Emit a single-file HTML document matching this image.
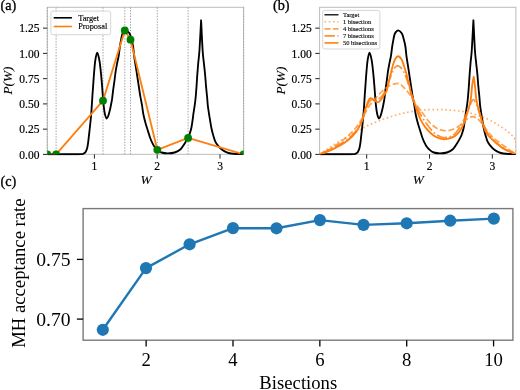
<!DOCTYPE html>
<html><head><meta charset="utf-8"><style>
html,body{margin:0;padding:0;background:#fff;}
svg{display:block;will-change:transform;}
text{font-family:"Liberation Serif",serif;}
.b text{stroke:#000;stroke-width:0.2px;}
</style></head><body>
<svg width="520" height="390" viewBox="0 0 520 390">
<g fill="#000">
<rect width="520" height="390" fill="#fff"/>
<g class="b">
<clipPath id="ca"><rect x="47.3" y="7.3" width="196.3" height="147.0"/></clipPath>
<clipPath id="ca2"><rect x="47.3" y="7.3" width="196.3" height="148.2"/></clipPath>
<rect x="47.3" y="7.3" width="196.3" height="147.0" fill="none" stroke="#bcbcbc" stroke-width="1"/>
<line x1="43.0" y1="154.40" x2="47.3" y2="154.40" stroke="#222" stroke-width="1"/>
<text x="39.4" y="158.50" text-anchor="end" font-size="11.5">0.00</text>
<line x1="43.0" y1="129.15" x2="47.3" y2="129.15" stroke="#222" stroke-width="1"/>
<text x="39.4" y="133.25" text-anchor="end" font-size="11.5">0.25</text>
<line x1="43.0" y1="103.90" x2="47.3" y2="103.90" stroke="#222" stroke-width="1"/>
<text x="39.4" y="108.00" text-anchor="end" font-size="11.5">0.50</text>
<line x1="43.0" y1="78.65" x2="47.3" y2="78.65" stroke="#222" stroke-width="1"/>
<text x="39.4" y="82.75" text-anchor="end" font-size="11.5">0.75</text>
<line x1="43.0" y1="53.40" x2="47.3" y2="53.40" stroke="#222" stroke-width="1"/>
<text x="39.4" y="57.50" text-anchor="end" font-size="11.5">1.00</text>
<line x1="43.0" y1="28.15" x2="47.3" y2="28.15" stroke="#222" stroke-width="1"/>
<text x="39.4" y="32.25" text-anchor="end" font-size="11.5">1.25</text>
<line x1="94.40" y1="154.3" x2="94.40" y2="158.60000000000002" stroke="#222" stroke-width="1"/>
<text x="94.40" y="169.8" text-anchor="middle" font-size="11.5">1</text>
<line x1="157.20" y1="154.3" x2="157.20" y2="158.60000000000002" stroke="#222" stroke-width="1"/>
<text x="157.20" y="169.8" text-anchor="middle" font-size="11.5">2</text>
<line x1="220.00" y1="154.3" x2="220.00" y2="158.60000000000002" stroke="#222" stroke-width="1"/>
<text x="220.00" y="169.8" text-anchor="middle" font-size="11.5">3</text>
<text transform="translate(146.00,184.2) scale(1.08,1)" text-anchor="middle" font-size="12.3" font-style="italic" style="stroke-width:0.1px">W</text>
<text transform="translate(12.30,80.5) rotate(-90) scale(1.04,1)" text-anchor="middle" font-size="12.8" font-style="italic" style="stroke-width:0.1px">P(W)</text>
</g>
<line x1="47.3" y1="7.3" x2="47.3" y2="154.3" stroke="#a5a5a5" stroke-width="1" stroke-dasharray="1.5 1.3"/>
<line x1="56.1" y1="7.3" x2="56.1" y2="154.3" stroke="#a5a5a5" stroke-width="1" stroke-dasharray="1.5 1.3"/>
<line x1="103.0" y1="7.3" x2="103.0" y2="154.3" stroke="#a5a5a5" stroke-width="1" stroke-dasharray="1.5 1.3"/>
<line x1="124.8" y1="7.3" x2="124.8" y2="154.3" stroke="#a5a5a5" stroke-width="1" stroke-dasharray="1.5 1.3"/>
<line x1="130.5" y1="7.3" x2="130.5" y2="154.3" stroke="#a5a5a5" stroke-width="1" stroke-dasharray="1.5 1.3"/>
<line x1="157.3" y1="7.3" x2="157.3" y2="154.3" stroke="#a5a5a5" stroke-width="1" stroke-dasharray="1.5 1.3"/>
<line x1="188.1" y1="7.3" x2="188.1" y2="154.3" stroke="#a5a5a5" stroke-width="1" stroke-dasharray="1.5 1.3"/>
<line x1="243.6" y1="7.3" x2="243.6" y2="154.3" stroke="#a5a5a5" stroke-width="1" stroke-dasharray="1.5 1.3"/>
<g clip-path="url(#ca2)">
<path d="M47.30,154.20 C49.42,154.20 56.22,154.20 60.00,154.20 C63.78,154.20 67.00,154.20 70.00,154.20 C73.00,154.20 76.17,154.22 78.00,154.20 C79.83,154.18 80.15,154.17 81.00,154.10 C81.85,154.03 82.52,153.97 83.10,153.80 C83.68,153.63 84.07,153.43 84.50,153.10 C84.93,152.77 85.25,152.63 85.70,151.80 C86.15,150.97 86.80,149.58 87.20,148.10 C87.60,146.62 87.83,144.77 88.10,142.90 C88.37,141.03 88.58,138.77 88.80,136.90 C89.02,135.03 89.23,133.18 89.40,131.70 C89.57,130.22 89.53,130.53 89.80,128.00 C90.07,125.47 90.67,120.20 91.00,116.50 C91.33,112.80 91.57,109.22 91.80,105.80 C92.03,102.38 92.17,99.48 92.40,96.00 C92.63,92.52 92.92,88.80 93.20,84.90 C93.48,81.00 93.75,76.70 94.10,72.60 C94.45,68.50 94.78,63.63 95.30,60.30 C95.82,56.97 96.52,52.60 97.20,52.60 C97.88,52.60 98.78,56.97 99.40,60.30 C100.02,63.63 100.47,68.50 100.90,72.60 C101.33,76.70 101.67,80.83 102.00,84.90 C102.33,88.97 102.62,93.52 102.90,97.00 C103.18,100.48 103.37,102.97 103.70,105.80 C104.03,108.63 104.38,111.88 104.90,114.00 C105.42,116.12 106.18,118.35 106.80,118.50 C107.42,118.65 108.02,116.60 108.60,114.90 C109.18,113.20 109.75,110.77 110.30,108.30 C110.85,105.83 111.58,101.82 111.90,100.10 C112.22,98.38 111.98,99.73 112.20,98.00 C112.42,96.27 112.82,92.62 113.20,89.70 C113.58,86.78 114.08,83.58 114.50,80.50 C114.92,77.42 115.22,74.28 115.70,71.20 C116.18,68.12 116.90,64.58 117.40,62.00 C117.90,59.42 118.28,58.28 118.70,55.70 C119.12,53.12 119.48,49.27 119.90,46.50 C120.32,43.73 120.75,41.27 121.20,39.10 C121.65,36.93 121.82,34.97 122.60,33.50 C123.38,32.03 124.73,30.30 125.90,30.30 C127.07,30.30 128.68,32.03 129.60,33.50 C130.52,34.97 130.82,36.93 131.40,39.10 C131.98,41.27 132.65,43.73 133.10,46.50 C133.55,49.27 133.75,52.95 134.10,55.70 C134.45,58.45 134.80,60.42 135.20,63.00 C135.60,65.58 136.05,68.28 136.50,71.20 C136.95,74.12 137.43,77.42 137.90,80.50 C138.37,83.58 138.90,87.08 139.30,89.70 C139.70,92.32 139.85,93.62 140.30,96.20 C140.75,98.78 141.48,102.15 142.00,105.20 C142.52,108.25 142.78,111.42 143.40,114.50 C144.02,117.58 144.93,120.93 145.70,123.70 C146.47,126.47 147.25,128.72 148.00,131.10 C148.75,133.48 149.48,136.03 150.20,138.00 C150.92,139.97 151.58,141.43 152.30,142.90 C153.02,144.37 153.67,145.65 154.50,146.80 C155.33,147.95 156.13,148.85 157.30,149.80 C158.47,150.75 159.77,151.92 161.50,152.50 C163.23,153.08 165.52,153.30 167.70,153.30 C169.88,153.30 172.45,153.18 174.60,152.50 C176.75,151.82 178.92,150.70 180.60,149.20 C182.28,147.70 183.48,145.38 184.70,143.50 C185.92,141.62 187.07,139.53 187.90,137.90 C188.73,136.27 189.10,135.48 189.70,133.70 C190.30,131.92 190.97,129.82 191.50,127.20 C192.03,124.58 192.57,120.35 192.90,118.00 C193.23,115.65 193.20,115.20 193.50,113.10 C193.80,111.00 194.35,107.92 194.70,105.40 C195.05,102.88 195.30,101.08 195.60,98.00 C195.90,94.92 196.22,90.80 196.50,86.90 C196.78,83.00 197.00,78.70 197.30,74.60 C197.60,70.50 197.93,66.40 198.30,62.30 C198.67,58.20 199.03,57.00 199.50,50.00 C199.97,43.00 200.57,30.20 201.10,20.30 C201.60,30.20 202.15,43.00 202.60,50.00 C203.05,57.00 203.38,58.20 203.80,62.30 C204.22,66.40 204.72,70.50 205.10,74.60 C205.48,78.70 205.75,83.00 206.10,86.90 C206.45,90.80 206.92,94.92 207.20,98.00 C207.48,101.08 207.52,102.88 207.80,105.40 C208.08,107.92 208.58,111.00 208.90,113.10 C209.22,115.20 209.28,115.52 209.70,118.00 C210.12,120.48 210.82,125.13 211.40,128.00 C211.98,130.87 212.55,132.93 213.20,135.20 C213.85,137.47 214.47,139.82 215.30,141.60 C216.13,143.38 217.12,144.58 218.20,145.90 C219.28,147.22 220.37,148.42 221.80,149.50 C223.23,150.58 225.25,151.73 226.80,152.40 C228.35,153.07 229.42,153.23 231.10,153.50 C232.78,153.77 234.82,153.88 236.90,154.00 C238.98,154.12 242.48,154.17 243.60,154.20" fill="none" stroke="#000" stroke-width="1.85" stroke-linejoin="round"/>
</g>
<g clip-path="url(#ca)">
<path d="M47.30,154.30 L56.10,154.30 L103.00,100.70 L124.80,30.50 L130.50,39.70 L157.30,149.80 L188.10,137.90 L243.60,154.30" fill="none" stroke="#ff7f0e" stroke-width="1.85" stroke-linejoin="round"/>
<circle cx="47.3" cy="154.3" r="3.9" fill="#008000"/>
<circle cx="56.1" cy="154.3" r="3.9" fill="#008000"/>
<circle cx="103.0" cy="100.7" r="3.9" fill="#008000"/>
<circle cx="124.8" cy="30.5" r="3.9" fill="#008000"/>
<circle cx="130.5" cy="39.7" r="3.9" fill="#008000"/>
<circle cx="157.3" cy="149.8" r="3.9" fill="#008000"/>
<circle cx="188.1" cy="137.9" r="3.9" fill="#008000"/>
<circle cx="243.6" cy="154.3" r="3.9" fill="#008000"/>
</g>
<rect x="50.9" y="11.1" width="59.8" height="23.6" rx="2" fill="#fff" fill-opacity="0.8" stroke="#cccccc" stroke-width="0.8"/>
<line x1="53.7" y1="17.8" x2="71.9" y2="17.8" stroke="#000" stroke-width="1.6"/>
<line x1="53.7" y1="26.5" x2="71.9" y2="26.5" stroke="#ff7f0e" stroke-width="1.6"/>
<text x="78.2" y="20.7" font-size="8.3" stroke="#000" stroke-width="0.15">Target</text>
<text x="78.2" y="29.4" font-size="8.3" stroke="#000" stroke-width="0.15">Proposal</text>
<g class="b">
<clipPath id="cb"><rect x="319.6" y="7.3" width="196.29999999999995" height="147.0"/></clipPath>
<clipPath id="cb2"><rect x="319.6" y="7.3" width="196.29999999999995" height="148.2"/></clipPath>
<rect x="319.6" y="7.3" width="196.29999999999995" height="147.0" fill="none" stroke="#bcbcbc" stroke-width="1"/>
<line x1="315.3" y1="154.40" x2="319.6" y2="154.40" stroke="#222" stroke-width="1"/>
<text x="311.70000000000005" y="158.50" text-anchor="end" font-size="11.5">0.00</text>
<line x1="315.3" y1="129.15" x2="319.6" y2="129.15" stroke="#222" stroke-width="1"/>
<text x="311.70000000000005" y="133.25" text-anchor="end" font-size="11.5">0.25</text>
<line x1="315.3" y1="103.90" x2="319.6" y2="103.90" stroke="#222" stroke-width="1"/>
<text x="311.70000000000005" y="108.00" text-anchor="end" font-size="11.5">0.50</text>
<line x1="315.3" y1="78.65" x2="319.6" y2="78.65" stroke="#222" stroke-width="1"/>
<text x="311.70000000000005" y="82.75" text-anchor="end" font-size="11.5">0.75</text>
<line x1="315.3" y1="53.40" x2="319.6" y2="53.40" stroke="#222" stroke-width="1"/>
<text x="311.70000000000005" y="57.50" text-anchor="end" font-size="11.5">1.00</text>
<line x1="315.3" y1="28.15" x2="319.6" y2="28.15" stroke="#222" stroke-width="1"/>
<text x="311.70000000000005" y="32.25" text-anchor="end" font-size="11.5">1.25</text>
<line x1="366.70" y1="154.3" x2="366.70" y2="158.60000000000002" stroke="#222" stroke-width="1"/>
<text x="366.70" y="169.8" text-anchor="middle" font-size="11.5">1</text>
<line x1="429.50" y1="154.3" x2="429.50" y2="158.60000000000002" stroke="#222" stroke-width="1"/>
<text x="429.50" y="169.8" text-anchor="middle" font-size="11.5">2</text>
<line x1="492.30" y1="154.3" x2="492.30" y2="158.60000000000002" stroke="#222" stroke-width="1"/>
<text x="492.30" y="169.8" text-anchor="middle" font-size="11.5">3</text>
<text transform="translate(418.30,184.2) scale(1.08,1)" text-anchor="middle" font-size="12.3" font-style="italic" style="stroke-width:0.1px">W</text>
<text transform="translate(284.60,80.5) rotate(-90) scale(1.04,1)" text-anchor="middle" font-size="12.8" font-style="italic" style="stroke-width:0.1px">P(W)</text>
</g>
<g clip-path="url(#cb2)">
<path d="M319.60,154.20 C321.72,154.20 328.52,154.20 332.30,154.20 C336.08,154.20 339.30,154.20 342.30,154.20 C345.30,154.20 348.47,154.22 350.30,154.20 C352.13,154.18 352.45,154.17 353.30,154.10 C354.15,154.03 354.82,153.97 355.40,153.80 C355.98,153.63 356.37,153.43 356.80,153.10 C357.23,152.77 357.55,152.63 358.00,151.80 C358.45,150.97 359.10,149.58 359.50,148.10 C359.90,146.62 360.13,144.77 360.40,142.90 C360.67,141.03 360.88,138.77 361.10,136.90 C361.32,135.03 361.53,133.18 361.70,131.70 C361.87,130.22 361.83,130.53 362.10,128.00 C362.37,125.47 362.97,120.20 363.30,116.50 C363.63,112.80 363.87,109.22 364.10,105.80 C364.33,102.38 364.47,99.48 364.70,96.00 C364.93,92.52 365.22,88.80 365.50,84.90 C365.78,81.00 366.05,76.70 366.40,72.60 C366.75,68.50 367.08,63.63 367.60,60.30 C368.12,56.97 368.82,52.60 369.50,52.60 C370.18,52.60 371.08,56.97 371.70,60.30 C372.32,63.63 372.77,68.50 373.20,72.60 C373.63,76.70 373.97,80.83 374.30,84.90 C374.63,88.97 374.92,93.52 375.20,97.00 C375.48,100.48 375.67,102.97 376.00,105.80 C376.33,108.63 376.68,111.88 377.20,114.00 C377.72,116.12 378.48,118.35 379.10,118.50 C379.72,118.65 380.32,116.60 380.90,114.90 C381.48,113.20 382.05,110.77 382.60,108.30 C383.15,105.83 383.88,101.82 384.20,100.10 C384.52,98.38 384.28,99.73 384.50,98.00 C384.72,96.27 385.12,92.62 385.50,89.70 C385.88,86.78 386.38,83.58 386.80,80.50 C387.22,77.42 387.52,74.28 388.00,71.20 C388.48,68.12 389.20,64.58 389.70,62.00 C390.20,59.42 390.58,58.28 391.00,55.70 C391.42,53.12 391.78,49.27 392.20,46.50 C392.62,43.73 393.05,41.27 393.50,39.10 C393.95,36.93 394.12,34.97 394.90,33.50 C395.68,32.03 397.03,30.30 398.20,30.30 C399.37,30.30 400.98,32.03 401.90,33.50 C402.82,34.97 403.12,36.93 403.70,39.10 C404.28,41.27 404.95,43.73 405.40,46.50 C405.85,49.27 406.05,52.95 406.40,55.70 C406.75,58.45 407.10,60.42 407.50,63.00 C407.90,65.58 408.35,68.28 408.80,71.20 C409.25,74.12 409.73,77.42 410.20,80.50 C410.67,83.58 411.20,87.08 411.60,89.70 C412.00,92.32 412.15,93.62 412.60,96.20 C413.05,98.78 413.78,102.15 414.30,105.20 C414.82,108.25 415.08,111.42 415.70,114.50 C416.32,117.58 417.23,120.93 418.00,123.70 C418.77,126.47 419.55,128.72 420.30,131.10 C421.05,133.48 421.78,136.03 422.50,138.00 C423.22,139.97 423.88,141.43 424.60,142.90 C425.32,144.37 425.97,145.65 426.80,146.80 C427.63,147.95 428.43,148.85 429.60,149.80 C430.77,150.75 432.07,151.92 433.80,152.50 C435.53,153.08 437.82,153.30 440.00,153.30 C442.18,153.30 444.75,153.18 446.90,152.50 C449.05,151.82 451.22,150.70 452.90,149.20 C454.58,147.70 455.78,145.38 457.00,143.50 C458.22,141.62 459.37,139.53 460.20,137.90 C461.03,136.27 461.40,135.48 462.00,133.70 C462.60,131.92 463.27,129.82 463.80,127.20 C464.33,124.58 464.87,120.35 465.20,118.00 C465.53,115.65 465.50,115.20 465.80,113.10 C466.10,111.00 466.65,107.92 467.00,105.40 C467.35,102.88 467.60,101.08 467.90,98.00 C468.20,94.92 468.52,90.80 468.80,86.90 C469.08,83.00 469.30,78.70 469.60,74.60 C469.90,70.50 470.23,66.40 470.60,62.30 C470.97,58.20 471.33,57.00 471.80,50.00 C472.27,43.00 472.87,30.20 473.40,20.30 C473.90,30.20 474.45,43.00 474.90,50.00 C475.35,57.00 475.68,58.20 476.10,62.30 C476.52,66.40 477.02,70.50 477.40,74.60 C477.78,78.70 478.05,83.00 478.40,86.90 C478.75,90.80 479.22,94.92 479.50,98.00 C479.78,101.08 479.82,102.88 480.10,105.40 C480.38,107.92 480.88,111.00 481.20,113.10 C481.52,115.20 481.58,115.52 482.00,118.00 C482.42,120.48 483.12,125.13 483.70,128.00 C484.28,130.87 484.85,132.93 485.50,135.20 C486.15,137.47 486.77,139.82 487.60,141.60 C488.43,143.38 489.42,144.58 490.50,145.90 C491.58,147.22 492.67,148.42 494.10,149.50 C495.53,150.58 497.55,151.73 499.10,152.40 C500.65,153.07 501.72,153.23 503.40,153.50 C505.08,153.77 507.12,153.88 509.20,154.00 C511.28,154.12 514.78,154.17 515.90,154.20" fill="none" stroke="#000" stroke-width="1.85" stroke-linejoin="round"/>
</g>
<g clip-path="url(#cb)">
<path d="M319.60,154.30 C320.33,153.80 322.27,152.47 324.00,151.30 C325.73,150.13 327.83,148.72 330.00,147.30 C332.17,145.88 334.67,144.25 337.00,142.80 C339.33,141.35 341.67,139.97 344.00,138.60 C346.33,137.23 348.67,135.87 351.00,134.60 C353.33,133.33 355.83,132.17 358.00,131.00 C360.17,129.83 361.92,128.70 364.00,127.60 C366.08,126.50 368.18,125.43 370.50,124.40 C372.82,123.37 375.33,122.40 377.90,121.40 C380.47,120.40 383.13,119.37 385.90,118.40 C388.67,117.43 391.82,116.42 394.50,115.60 C397.18,114.78 399.55,114.12 402.00,113.50 C404.45,112.88 406.45,112.40 409.20,111.90 C411.95,111.40 415.67,110.85 418.50,110.50 C421.33,110.15 423.53,109.95 426.20,109.80 C428.87,109.65 431.73,109.62 434.50,109.60 C437.27,109.58 440.03,109.60 442.80,109.70 C445.57,109.80 448.33,109.98 451.10,110.20 C453.87,110.42 456.75,110.65 459.40,111.00 C462.05,111.35 464.57,111.78 467.00,112.30 C469.43,112.82 471.67,113.40 474.00,114.10 C476.33,114.80 478.67,115.65 481.00,116.50 C483.33,117.35 485.83,118.23 488.00,119.20 C490.17,120.17 492.17,121.25 494.00,122.30 C495.83,123.35 497.33,124.43 499.00,125.50 C500.67,126.57 502.42,127.58 504.00,128.70 C505.58,129.82 507.17,131.07 508.50,132.20 C509.83,133.33 510.95,134.40 512.00,135.50 C513.05,136.60 514.15,137.80 514.80,138.80 C515.45,139.80 515.72,138.92 515.90,141.50 C516.08,144.08 515.90,152.17 515.90,154.30" fill="none" stroke="#ff7f0e" stroke-opacity="0.6" stroke-width="1.7" stroke-dasharray="1.6 2.65"/>
<path d="M319.60,154.30 C320.67,153.80 323.77,152.52 326.00,151.30 C328.23,150.08 330.67,148.50 333.00,147.00 C335.33,145.50 337.67,144.00 340.00,142.30 C342.33,140.60 344.83,138.68 347.00,136.80 C349.17,134.92 351.17,132.97 353.00,131.00 C354.83,129.03 356.50,127.08 358.00,125.00 C359.50,122.92 360.67,120.75 362.00,118.50 C363.33,116.25 364.67,113.75 366.00,111.50 C367.33,109.25 368.50,107.12 370.00,105.00 C371.50,102.88 373.20,100.88 375.00,98.80 C376.80,96.72 378.97,94.30 380.80,92.50 C382.63,90.70 384.30,89.25 386.00,88.00 C387.70,86.75 389.28,85.73 391.00,85.00 C392.72,84.27 394.80,83.77 396.30,83.60 C397.80,83.43 398.62,83.22 400.00,84.00 C401.38,84.78 403.07,86.67 404.60,88.30 C406.13,89.93 407.67,91.65 409.20,93.80 C410.73,95.95 412.25,98.88 413.80,101.20 C415.35,103.52 417.10,105.82 418.50,107.70 C419.90,109.58 420.62,110.37 422.20,112.50 C423.78,114.63 426.27,118.38 428.00,120.50 C429.73,122.62 431.07,123.87 432.60,125.20 C434.13,126.53 435.35,127.60 437.20,128.50 C439.05,129.40 441.70,130.30 443.70,130.60 C445.70,130.90 447.35,130.65 449.20,130.30 C451.05,129.95 453.10,129.27 454.80,128.50 C456.50,127.73 458.10,126.63 459.40,125.70 C460.70,124.77 461.52,123.87 462.60,122.90 C463.68,121.93 464.75,120.82 465.90,119.90 C467.05,118.98 468.35,117.95 469.50,117.40 C470.65,116.85 471.72,116.53 472.80,116.60 C473.88,116.67 474.85,117.10 476.00,117.80 C477.15,118.50 478.47,119.53 479.70,120.80 C480.93,122.07 482.17,123.77 483.40,125.40 C484.63,127.03 485.87,129.00 487.10,130.60 C488.33,132.20 489.65,133.70 490.80,135.00 C491.95,136.30 492.80,137.32 494.00,138.40 C495.20,139.48 496.67,140.48 498.00,141.50 C499.33,142.52 500.50,143.42 502.00,144.50 C503.50,145.58 505.33,146.83 507.00,148.00 C508.67,149.17 510.52,150.53 512.00,151.50 C513.48,152.47 515.25,153.42 515.90,153.80" fill="none" stroke="#ff7f0e" stroke-opacity="0.72" stroke-width="1.7" stroke-dasharray="6 2.6"/>
<path d="M319.60,154.30 C321.33,153.47 326.60,150.97 330.00,149.30 C333.40,147.63 336.67,146.30 340.00,144.30 C343.33,142.30 347.17,139.77 350.00,137.30 C352.83,134.83 355.08,132.13 357.00,129.50 C358.92,126.87 360.17,124.42 361.50,121.50 C362.83,118.58 363.92,114.92 365.00,112.00 C366.08,109.08 367.08,105.95 368.00,104.00 C368.92,102.05 369.67,101.03 370.50,100.30 C371.33,99.57 372.08,99.72 373.00,99.60 C373.92,99.48 375.00,99.73 376.00,99.60 C377.00,99.47 377.92,99.48 379.00,98.80 C380.08,98.12 381.33,97.05 382.50,95.50 C383.67,93.95 385.00,91.75 386.00,89.50 C387.00,87.25 387.68,84.27 388.50,82.00 C389.32,79.73 390.12,77.85 390.90,75.90 C391.68,73.95 392.43,71.78 393.20,70.30 C393.97,68.82 394.73,67.73 395.50,67.00 C396.27,66.27 396.97,65.85 397.80,65.90 C398.63,65.95 399.57,66.42 400.50,67.30 C401.43,68.18 402.45,69.47 403.40,71.20 C404.35,72.93 405.18,74.98 406.20,77.70 C407.22,80.42 408.37,84.03 409.50,87.50 C410.63,90.97 411.75,95.17 413.00,98.50 C414.25,101.83 415.58,104.58 417.00,107.50 C418.42,110.42 419.83,113.17 421.50,116.00 C423.17,118.83 424.92,121.73 427.00,124.50 C429.08,127.27 431.67,130.52 434.00,132.60 C436.33,134.68 438.67,136.22 441.00,137.00 C443.33,137.78 445.83,137.70 448.00,137.30 C450.17,136.90 452.17,136.07 454.00,134.60 C455.83,133.13 457.50,130.68 459.00,128.50 C460.50,126.32 461.67,124.17 463.00,121.50 C464.33,118.83 465.75,115.42 467.00,112.50 C468.25,109.58 469.43,106.17 470.50,104.00 C471.57,101.83 472.43,99.50 473.40,99.50 C474.37,99.50 475.28,101.75 476.30,104.00 C477.32,106.25 478.47,110.17 479.50,113.00 C480.53,115.83 481.42,118.12 482.50,121.00 C483.58,123.88 484.75,127.75 486.00,130.30 C487.25,132.85 488.50,134.40 490.00,136.30 C491.50,138.20 493.00,139.95 495.00,141.70 C497.00,143.45 499.67,145.25 502.00,146.80 C504.33,148.35 506.68,149.80 509.00,151.00 C511.32,152.20 514.75,153.50 515.90,154.00" fill="none" stroke="#ff7f0e" stroke-opacity="0.85" stroke-width="1.7" stroke-dasharray="10.4 2.6 1.6 2.6"/>
<path d="M319.60,154.30 C320.67,153.93 323.77,152.97 326.00,152.10 C328.23,151.23 330.67,150.22 333.00,149.10 C335.33,147.98 337.67,146.77 340.00,145.40 C342.33,144.03 344.83,142.55 347.00,140.90 C349.17,139.25 351.30,137.27 353.00,135.50 C354.70,133.73 355.98,132.12 357.20,130.30 C358.42,128.48 359.42,126.32 360.30,124.60 C361.18,122.88 361.88,121.77 362.50,120.00 C363.12,118.23 363.28,116.53 364.00,114.00 C364.72,111.47 365.93,107.27 366.80,104.80 C367.67,102.33 368.53,100.30 369.20,99.20 C369.87,98.10 370.25,98.25 370.80,98.20 C371.35,98.15 371.93,98.50 372.50,98.90 C373.07,99.30 373.45,100.07 374.20,100.60 C374.95,101.13 376.20,101.92 377.00,102.10 C377.80,102.28 378.40,102.02 379.00,101.70 C379.60,101.38 379.72,101.38 380.60,100.20 C381.48,99.02 383.30,96.15 384.30,94.60 C385.30,93.05 386.00,92.42 386.60,90.90 C387.20,89.38 387.48,87.23 387.90,85.50 C388.32,83.77 388.60,82.57 389.10,80.50 C389.60,78.43 390.28,75.57 390.90,73.10 C391.52,70.63 392.10,68.02 392.80,65.70 C393.50,63.38 394.22,60.78 395.10,59.20 C395.98,57.62 397.03,56.20 398.10,56.20 C399.17,56.20 400.53,57.62 401.50,59.20 C402.47,60.78 403.12,63.38 403.90,65.70 C404.68,68.02 405.52,70.63 406.20,73.10 C406.88,75.57 407.47,78.43 408.00,80.50 C408.53,82.57 408.88,83.28 409.40,85.50 C409.92,87.72 410.20,90.72 411.10,93.80 C412.00,96.88 413.73,100.97 414.80,104.00 C415.87,107.03 416.53,109.38 417.50,112.00 C418.47,114.62 419.32,117.18 420.60,119.70 C421.88,122.22 423.50,124.85 425.20,127.10 C426.90,129.35 428.95,131.52 430.80,133.20 C432.65,134.88 434.30,136.20 436.30,137.20 C438.30,138.20 440.80,138.95 442.80,139.20 C444.80,139.45 446.30,139.22 448.30,138.70 C450.30,138.18 452.95,137.27 454.80,136.10 C456.65,134.93 458.17,133.22 459.40,131.70 C460.63,130.18 461.28,128.85 462.20,127.00 C463.12,125.15 464.07,122.90 464.90,120.60 C465.73,118.30 466.50,115.50 467.20,113.20 C467.90,110.90 468.50,109.15 469.10,106.80 C469.70,104.45 470.28,102.70 470.80,99.10 C471.32,95.50 471.72,88.92 472.20,85.20 C472.68,81.48 473.20,79.60 473.70,76.80 C474.10,79.60 474.47,81.48 474.90,85.20 C475.33,88.92 475.80,95.50 476.30,99.10 C476.80,102.70 477.33,104.45 477.90,106.80 C478.47,109.15 478.97,110.58 479.70,113.20 C480.43,115.82 481.42,119.70 482.30,122.50 C483.18,125.30 483.97,127.82 485.00,130.00 C486.03,132.18 487.23,133.97 488.50,135.60 C489.77,137.23 491.18,138.43 492.60,139.80 C494.02,141.17 495.43,142.50 497.00,143.80 C498.57,145.10 500.00,146.32 502.00,147.60 C504.00,148.88 506.68,150.43 509.00,151.50 C511.32,152.57 514.75,153.58 515.90,154.00" fill="none" stroke="#ff7f0e" stroke-width="1.85" stroke-linejoin="round"/>
</g>
<rect x="322.7" y="10.4" width="57.2" height="38.6" rx="2" fill="#fff" fill-opacity="0.8" stroke="#cccccc" stroke-width="0.8"/>
<line x1="324.5" y1="14.8" x2="338.5" y2="14.8" stroke="#000" stroke-width="1.3"/>
<line x1="324.5" y1="21.8" x2="338.5" y2="21.8" stroke="#ff7f0e" stroke-opacity="0.6" stroke-width="1.6" stroke-dasharray="1.6 2.65"/>
<line x1="324.5" y1="28.9" x2="338.5" y2="28.9" stroke="#ff7f0e" stroke-opacity="0.72" stroke-width="1.6" stroke-dasharray="6 2.4"/>
<line x1="324.5" y1="35.9" x2="338.5" y2="35.9" stroke="#ff7f0e" stroke-opacity="0.85" stroke-width="1.6" stroke-dasharray="10.4 2.6 1.6 2.6"/>
<line x1="324.5" y1="42.9" x2="338.5" y2="42.9" stroke="#ff7f0e" stroke-width="1.6"/>
<text x="342.9" y="17.00" font-size="6.5" stroke="#000" stroke-width="0.12">Target</text>
<text x="342.9" y="24.00" font-size="6.5" stroke="#000" stroke-width="0.12">1 bisection</text>
<text x="342.9" y="31.10" font-size="6.5" stroke="#000" stroke-width="0.12">4 bisections</text>
<text x="342.9" y="38.10" font-size="6.5" stroke="#000" stroke-width="0.12">7 bisections</text>
<text x="342.9" y="45.10" font-size="6.5" stroke="#000" stroke-width="0.12">50 bisections</text>
<text x="0.4" y="9.6" font-size="14.3" stroke="#000" stroke-width="0.3">(a)</text>
<text x="272.9" y="10.0" font-size="14.3" stroke="#000" stroke-width="0.3">(b)</text>
<text x="0.4" y="185.8" font-size="14.3" stroke="#000" stroke-width="0.3">(c)</text>
<rect x="83.1" y="208.6" width="429.79999999999995" height="131.6" fill="none" stroke="#7a7a7a" stroke-width="1.4"/>
<line x1="146.13" y1="340.2" x2="146.13" y2="346.4" stroke="#000" stroke-width="1.3"/>
<text x="146.13" y="365.6" text-anchor="middle" font-size="18.7">2</text>
<line x1="232.99" y1="340.2" x2="232.99" y2="346.4" stroke="#000" stroke-width="1.3"/>
<text x="232.99" y="365.6" text-anchor="middle" font-size="18.7">4</text>
<line x1="319.85" y1="340.2" x2="319.85" y2="346.4" stroke="#000" stroke-width="1.3"/>
<text x="319.85" y="365.6" text-anchor="middle" font-size="18.7">6</text>
<line x1="406.71" y1="340.2" x2="406.71" y2="346.4" stroke="#000" stroke-width="1.3"/>
<text x="406.71" y="365.6" text-anchor="middle" font-size="18.7">8</text>
<line x1="493.57" y1="340.2" x2="493.57" y2="346.4" stroke="#000" stroke-width="1.3"/>
<text x="493.57" y="365.6" text-anchor="middle" font-size="18.7">10</text>
<line x1="76.89999999999999" y1="259.4" x2="83.1" y2="259.4" stroke="#000" stroke-width="1.3"/>
<text transform="translate(70.6,265.90) scale(1.05,1)" text-anchor="end" font-size="18.7">0.75</text>
<line x1="76.89999999999999" y1="319.1" x2="83.1" y2="319.1" stroke="#000" stroke-width="1.3"/>
<text transform="translate(70.6,325.60) scale(1.05,1)" text-anchor="end" font-size="18.7">0.70</text>
<text x="298.3" y="389.2" text-anchor="middle" font-size="18.7">Bisections</text>
<text transform="translate(25.4,273.1) rotate(-90)" text-anchor="middle" font-size="18.7">MH acceptance rate</text>
<path d="M102.80,329.80 L146.00,268.10 L189.60,244.30 L233.00,228.10 L276.50,228.30 L319.95,220.10 L363.50,224.85 L406.70,223.30 L450.20,220.70 L493.80,218.60" fill="none" stroke="#1f77b4" stroke-width="2.4" stroke-linejoin="round"/>
<circle cx="102.8" cy="329.8" r="6.1" fill="#1f77b4"/>
<circle cx="146.0" cy="268.1" r="6.1" fill="#1f77b4"/>
<circle cx="189.6" cy="244.3" r="6.1" fill="#1f77b4"/>
<circle cx="233.0" cy="228.1" r="6.1" fill="#1f77b4"/>
<circle cx="276.5" cy="228.3" r="6.1" fill="#1f77b4"/>
<circle cx="319.95" cy="220.1" r="6.1" fill="#1f77b4"/>
<circle cx="363.5" cy="224.85" r="6.1" fill="#1f77b4"/>
<circle cx="406.7" cy="223.3" r="6.1" fill="#1f77b4"/>
<circle cx="450.2" cy="220.7" r="6.1" fill="#1f77b4"/>
<circle cx="493.8" cy="218.6" r="6.1" fill="#1f77b4"/>
</g></svg>
</body></html>
